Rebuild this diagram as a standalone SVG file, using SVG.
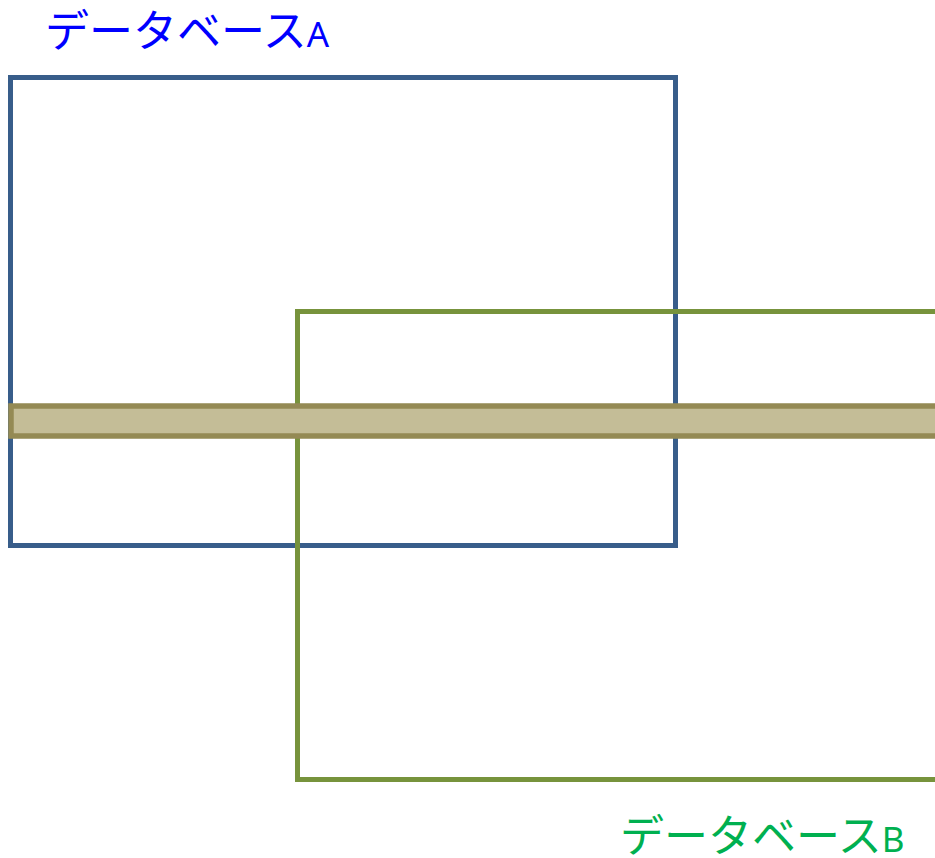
<svg xmlns="http://www.w3.org/2000/svg" width="935" height="858" viewBox="0 0 935 858">
<style>
.lbl{font-family:"Noto Sans CJK JP","Noto Sans",sans-serif;font-size:44px}
.lat{font-family:"Noto Sans","Noto Sans CJK JP",sans-serif;font-size:35px}
</style>
<rect width="935" height="858" fill="#fff"/>
<g id="dbA">
<rect x="10.5" y="77.5" width="665" height="468" fill="none" stroke="#385D8A" stroke-width="5"/>
<text class="lbl" x="45" y="47" fill="#0000FF">データベース<tspan class="lat">A</tspan></text>
</g>
<g id="dbB">
<rect x="297.5" y="311.5" width="700" height="468" fill="none" stroke="#77933C" stroke-width="5"/>
<text class="lbl" x="620" y="852" fill="#00B050">データベース<tspan class="lat">B</tspan></text>
</g>
<g id="band">
<rect x="11" y="406" width="940" height="30" fill="#C4BD97" stroke="#948A54" stroke-width="5.5"/>
</g>
<g id="connectors"></g>
</svg>
